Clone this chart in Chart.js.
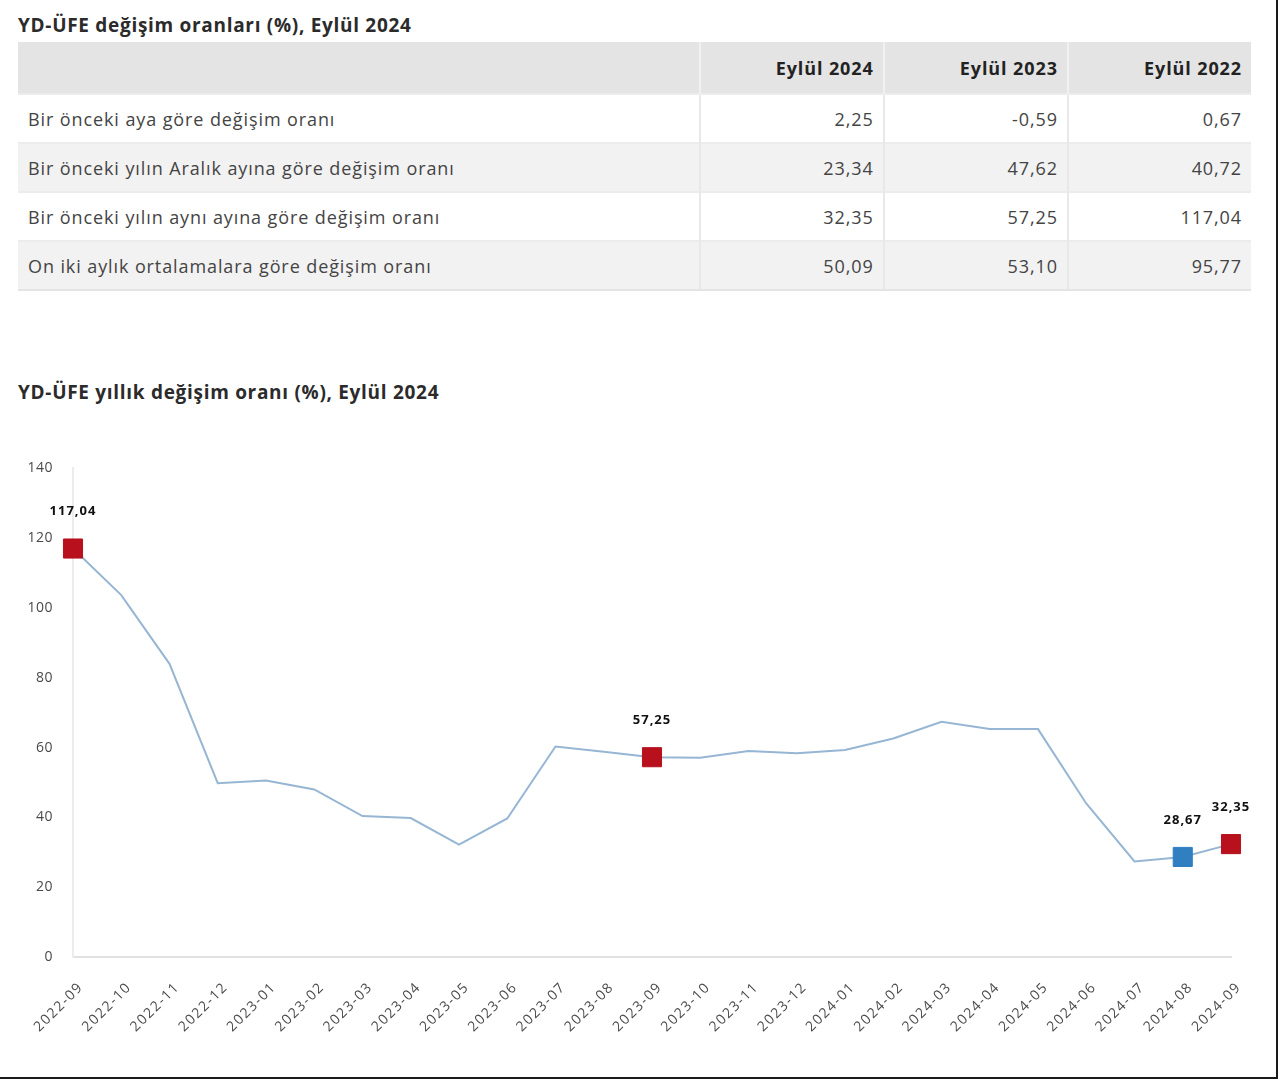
<!DOCTYPE html>
<html lang="tr">
<head>
<meta charset="utf-8">
<title>YD-ÜFE</title>
<script src="https://cdn.jsdelivr.net/npm/chart.js@4.4.1/dist/chart.umd.min.js"></script>
<style>
  html, body { margin: 0; padding: 0; background: #fff; }
  body { width: 1280px; height: 1081px; position: relative; overflow: hidden; font-family: "Open Sans", "Noto Sans", sans-serif; color: #333; }
  .frame { position: absolute; left: 0; top: 0; width: 1276px; height: 1077px; border-right: 2px solid #1a1a1a; border-bottom: 2px solid #1a1a1a; }
  h2 { position: absolute; left: 18px; margin: 0; font-size: 19px; font-weight: 700; color: #2b2b2b; letter-spacing: 0.7px; }
  #t1 { top: 12px; }
  #t2 { top: 379px; }
  table { position: absolute; left: 18px; top: 42px; width: 1233px; border-collapse: collapse; font-size: 18px; letter-spacing: 0.9px; color: #444; }
  th { background: #e4e4e4; height: 51px; font-weight: 700; color: #222; text-align: right; padding: 0 9px 0 11px; border-left: 2px solid #f1f1f1; }
  th:first-child { border-left: none; }
  td { height: 47px; padding: 0 9px 0 11px; border-top: 2px solid #ececec; border-left: 2px solid #e8e8e8; text-align: right; }
  td:first-child { text-align: left; border-left: none; padding-left: 10px; }
  tr:nth-child(even) td { background: #f2f2f2; }
  tbody tr:last-child td { border-bottom: 2px solid #e4e4e4; }
  .c1 { width: 660px; }
  .cn { width: 162px; }
  #box { position: absolute; left: 0; top: 440px; width: 1275px; height: 620px; }
</style>
</head>
<body>
<div class="frame"></div>
<h2 id="t1">YD-ÜFE değişim oranları (%), Eylül 2024</h2>
<table id="tbl">
  <thead><tr id="hdr"></tr></thead>
  <tbody id="rows"></tbody>
</table>
<h2 id="t2">YD-ÜFE yıllık değişim oranı (%), Eylül 2024</h2>
<div id="box"><canvas id="myChart"></canvas></div>
<script>
"use strict";

// table data
var tableCols = ["Eylül 2024", "Eylül 2023", "Eylül 2022"];
var tableRows = [
    "Bir önceki aya göre değişim oranı",
    "Bir önceki yılın Aralık ayına göre değişim oranı",
    "Bir önceki yılın aynı ayına göre değişim oranı",
    "On iki aylık ortalamalara göre değişim oranı"
];
var sep2024 = [2.25, 23.34, 32.35, 50.09];
var sep2023 = [-0.59, 47.62, 57.25, 53.10];
var sep2022 = [0.67, 40.72, 117.04, 95.77];

// chart data
var months = ["2022-09", "2022-10", "2022-11", "2022-12", "2023-01", "2023-02", "2023-03", "2023-04",
    "2023-05", "2023-06", "2023-07", "2023-08", "2023-09", "2023-10", "2023-11", "2023-12",
    "2024-01", "2024-02", "2024-03", "2024-04", "2024-05", "2024-06", "2024-07", "2024-08", "2024-09"];
var annualChange = [117.04, 103.7, 84.0, 49.8, 50.6, 48.0, 40.4, 39.8,
    32.2, 39.7, 60.3, 58.8, 57.25, 57.1, 59.0, 58.4,
    59.3, 62.6, 67.4, 65.3, 65.3, 44.0, 27.4, 28.67, 32.35];
var redMarks = ["2022-09", "2023-09", "2024-09"];
var blueMarks = ["2024-08"];
var yTicks = [0, 20, 40, 60, 80, 100, 120, 140];

function fmt(v) { return v.toFixed(2).replace('.', ','); }

// build table
var hdr = document.getElementById('hdr');
hdr.innerHTML = '<th class="c1"></th>' + tableCols.map(function(c){ return '<th class="cn">' + c + '</th>'; }).join('');
var body = document.getElementById('rows');
tableRows.forEach(function(name, i){
    var tr = document.createElement('tr');
    tr.innerHTML = '<td>' + name + '</td><td>' + fmt(sep2024[i]) + '</td><td>' + fmt(sep2023[i]) + '</td><td>' + fmt(sep2022[i]) + '</td>';
    body.appendChild(tr);
});

var RED = '#b8101c', BLUE = '#2f7fc1';
var ptColor = months.map(function(m){ return redMarks.indexOf(m) >= 0 ? RED : (blueMarks.indexOf(m) >= 0 ? BLUE : 'rgba(0,0,0,0)'); });
var ptRadius = months.map(function(m){ return (redMarks.indexOf(m) >= 0 || blueMarks.indexOf(m) >= 0) ? 13.5 : 0; });

// x labels get wider spacing (drawn before datasets), y labels after (z:1)
var valueLabels = {
    id: 'valueLabels',
    beforeDraw: function(chart) {
        chart.ctx.letterSpacing = '1.5px';
    },
    afterDatasetsDraw: function(chart) {
        var ctx = chart.ctx;
        var meta = chart.getDatasetMeta(0);
        ctx.save();
        ctx.letterSpacing = '1px';
        ctx.font = "bold 13px 'Open Sans', sans-serif";
        ctx.fillStyle = '#111';
        ctx.textAlign = 'center';
        ctx.textBaseline = 'middle';
        months.forEach(function(m, i){
            if (redMarks.indexOf(m) >= 0 || blueMarks.indexOf(m) >= 0) {
                var p = meta.data[i];
                ctx.fillText(fmt(annualChange[i]), p.x, p.y - 37);
            }
        });
        ctx.restore();
        ctx.letterSpacing = '0.5px';
    }
};

var chart = new Chart(document.getElementById('myChart').getContext('2d'), {
    type: 'line',
    data: {
        labels: months,
        datasets: [{
            label: 'YD-ÜFE',
            data: annualChange,
            borderColor: '#96b6d3',
            borderWidth: 2,
            tension: 0,
            pointStyle: 'rect',
            pointRadius: ptRadius,
            pointHoverRadius: ptRadius,
            pointBackgroundColor: ptColor,
            pointBorderColor: ptColor,
            pointBorderWidth: 1
        }]
    },
    options: {
        responsive: true,
        maintainAspectRatio: false,
        animation: false,
        layout: { padding: { top: 28, right: 44, left: 0, bottom: 0 } },
        plugins: { legend: { display: false }, tooltip: { enabled: false } },
        scales: {
            x: {
                offset: false,
                grid: { display: false, drawTicks: false },
                border: { color: '#e2e2e2', width: 2 },
                ticks: {
                    autoSkip: false, minRotation: 45, maxRotation: 45, padding: 22, labelOffset: 8,
                    color: '#4a4a4a', font: { family: "'Open Sans', sans-serif", size: 14 }
                },
                afterFit: function(s){ s.height = 103; }
            },
            y: {
                min: 0, max: 140,
                afterBuildTicks: function(s){ s.ticks = yTicks.map(function(v){ return { value: v }; }); },
                grid: { display: false, drawTicks: false },
                border: { color: '#ececec', width: 2 },
                ticks: { z: 1, padding: 20, color: '#4a4a4a', font: { family: "'Open Sans', sans-serif", size: 14 } },
                afterFit: function(s){ s.width = 73; }
            }
        }
    },
    plugins: [valueLabels]
});
</script>
</body>
</html>
